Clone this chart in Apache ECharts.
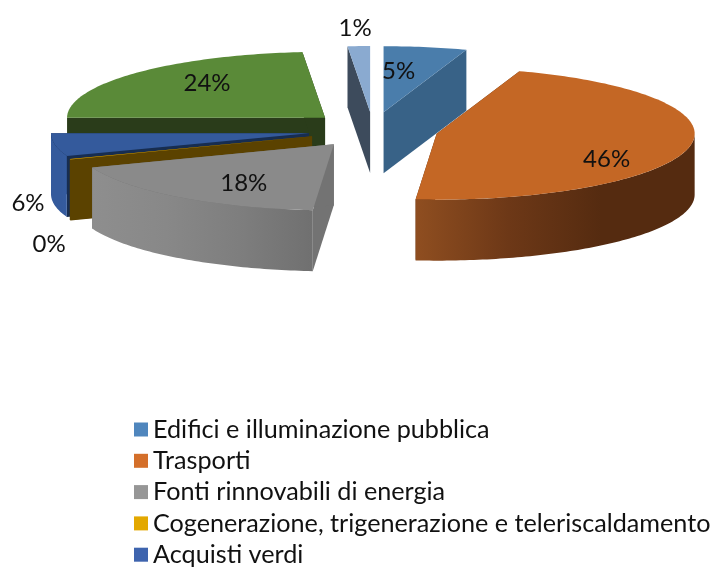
<!DOCTYPE html>
<html>
<head>
<meta charset="utf-8">
<style>
html, body { margin: 0; padding: 0; background: #fff; }
#chart { width: 712px; height: 567px; }
</style>
<script src="https://cdn.jsdelivr.net/npm/echarts@6/dist/echarts.min.js"></script>
</head>
<body>
<div id="chart"></div>
<script>
// slices clockwise from 12 o'clock, last two have no legend row in the picture
const categories = ['Edifici e illuminazione pubblica', 'Trasporti', 'Fonti rinnovabili di energia',
  'Cogenerazione, trigenerazione e teleriscaldamento', 'Acquisti verdi', 'Altro A', 'Altro B']
const values = [5.2, 46.1, 18.0, 0.1, 5.6, 23.6, 1.4]
const legendNames = categories.slice(0, 5)
const legendColors = ['#4f86bd', '#d46f2a', '#969696', '#e3a800', '#3e64ae']

// look of each slice
const topColors = ['#4a7dab', '#c46725', '#8a8a8a', '#e3a800', '#345a9c', '#5a8a38', '#8aaad0']
const sideColors = ['#386287', '#552b10', '#737373', '#5b4200', '#172d50', '#2a3c1a', '#3d4b5c']
// outer wall shading, left to right
const wallStops = [
  null,
  ['#8f4e20', '#6d3817', '#552b10', '#552b10'],
  ['#8e8e8e', '#888888', '#7e7e7e', '#707070'],
  null,
  ['#345a9c', '#345a9c', '#345a9c', '#355c9f'],
  null,
  null
]
// label centre relative to the slice's pulled out apex
const labelOffsets = [[15, -41], [170, 26], [-90, 39], [-263, 108], [-281, 70], [-118, -35], [-15, -84]]

const cx = 373
const cy = 130
const rx = 258
const ry = 66
const depth = 61
const pullX = 65
const pullY = 18

const total = values.reduce((a, b) => a + b, 0)
const toAngle = (v) => echarts.number.linearMap(v, [0, total], [0, 360])

let running = 0
const slices = values.map((v) => {
  const start = toAngle(running)
  running += v
  const end = toAngle(running)
  const mid = (start + end) / 2 * Math.PI / 180
  return {
    start,
    end,
    ax: cx + pullX * Math.sin(mid),
    ay: cy - pullY * Math.cos(mid)
  }
})

// back slices first
const drawOrder = slices.map((s, i) => i).sort((a, b) => slices[a].ay - slices[b].ay)

function rim (s, deg, drop) {
  const t = deg * Math.PI / 180
  return [s.ax + rx * Math.sin(t), s.ay - ry * Math.cos(t) + drop]
}

function arc (s, from, to, drop) {
  const pts = []
  const n = Math.max(1, Math.ceil(Math.abs(to - from)))
  for (let i = 0; i <= n; i++) {
    pts.push(rim(s, from + (to - from) * i / n, drop))
  }
  return pts
}

function radialWall (s, deg, fill) {
  return {
    type: 'polygon',
    shape: { points: [[s.ax, s.ay], rim(s, deg, 0), rim(s, deg, depth), [s.ax, s.ay + depth]] },
    style: { fill }
  }
}

function renderSlice (idx) {
  return () => {
    const s = slices[idx]
    const children = [
      radialWall(s, s.start, sideColors[idx]),
      radialWall(s, s.end, sideColors[idx])
    ]
    // outer wall only shows on the front half
    const from = Math.max(s.start, 90)
    const to = Math.min(s.end, 270)
    if (to > from) {
      const stops = wallStops[idx] || [sideColors[idx], sideColors[idx], sideColors[idx], sideColors[idx]]
      children.push({
        type: 'polygon',
        shape: { points: arc(s, from, to, 0).concat(arc(s, to, from, depth)) },
        style: {
          fill: new echarts.graphic.LinearGradient(0, 0, 1, 0, stops.map((color, i) => ({ offset: i / 3, color })))
        }
      })
    }
    children.push({
      type: 'polygon',
      shape: { points: [[s.ax, s.ay]].concat(arc(s, s.start, s.end, 0)) },
      style: { fill: topColors[idx] }
    })
    return { type: 'group', children }
  }
}

const chart = echarts.init(document.getElementById('chart'))

const sliceSeries = categories.map((name, i) => ({
  type: 'custom',
  name,
  coordinateSystem: 'none',
  z: 2 + drawOrder.indexOf(i),
  silent: true,
  itemStyle: { color: legendColors[i] || topColors[i] },
  data: [[values[i]]],
  renderItem: renderSlice(i)
}))

const labelSeries = {
  type: 'custom',
  name: 'etichette',
  coordinateSystem: 'none',
  z: 20,
  silent: true,
  data: values.map((v) => [v]),
  renderItem: (params, api) => {
    const i = params.dataIndex
    const s = slices[i]
    return {
      type: 'text',
      x: s.ax + labelOffsets[i][0],
      y: s.ay + labelOffsets[i][1],
      style: {
        text: Math.round(api.value(0)) + '%',
        fill: '#111',
        font: '24px Lato',
        align: 'center',
        verticalAlign: 'middle'
      }
    }
  }
}

chart.setOption({
  animation: false,
  backgroundColor: '#fff',
  legend: {
    orient: 'vertical',
    left: 134,
    top: 417,
    height: 170,
    icon: 'rect',
    itemWidth: 14,
    itemHeight: 14,
    itemGap: 6.3,
    selectedMode: false,
    padding: 0,
    textStyle: { color: '#111', fontFamily: 'Lato', fontSize: 25.2, lineHeight: 24 },
    data: legendNames.map((name, i) => ({ name, itemStyle: { color: legendColors[i] } }))
  },
  series: sliceSeries.concat(labelSeries)
})

window.addEventListener('resize', () => {
  chart.resize()
})
</script>
</body>
</html>
